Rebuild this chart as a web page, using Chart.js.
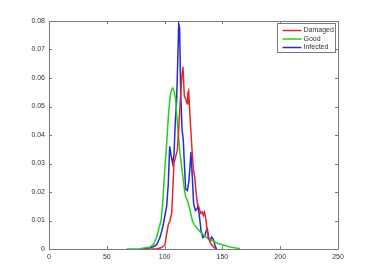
<!DOCTYPE html>
<html>
<head>
<meta charset="utf-8">
<script src="https://cdn.jsdelivr.net/npm/chart.js@4.4.0/dist/chart.umd.min.js"></script>
<style>
  html, body { margin: 0; padding: 0; background: #ffffff; }
  #wrap { width: 374px; height: 280px; }
</style>
</head>
<body>
<div id="wrap"><canvas id="hist" width="374" height="280"></canvas></div>
<script>
// intensity histograms
const seriesNames = ['Damaged', 'Good', 'Infected'];

const damagedX = [81.6, 93.1, 97.5, 100.3, 101.8, 103.2, 104.7, 106.1, 107, 108.1, 109.6, 111, 112.2, 113.3, 114.8, 115.9, 117.1, 118.2, 119.4, 120, 120.8, 121.4, 122.5, 123.7, 124.9, 126, 127.2, 128.3, 129.8, 131.2, 132.4, 133.5, 134.4, 135.5, 136.7, 137.8, 139.8, 142.2, 144.5];
const damagedY = [0, 0, 0.0005, 0.0015, 0.0054, 0.0085, 0.010, 0.0125, 0.020, 0.030, 0.0325, 0.0345, 0.042, 0.050, 0.060, 0.0639, 0.0535, 0.0528, 0.051, 0.0545, 0.0555, 0.051, 0.043, 0.035, 0.028, 0.0255, 0.020, 0.016, 0.0145, 0.0125, 0.013, 0.0118, 0.013, 0.011, 0.007, 0.004, 0.002, 0.0007, 0];

const goodX = [67.2, 78.7, 87.4, 90.8, 93.1, 95.4, 96.9, 98.1, 98.9, 100.3, 101.8, 103.2, 104.7, 105.8, 107, 108.4, 109.6, 110.4, 111.9, 113.3, 114.8, 116.8, 118.2, 119.7, 122, 124.3, 127.2, 132.1, 137.8, 146.5, 156.6, 165.2];
const goodY = [0, 0.0001, 0.0007, 0.0019, 0.0042, 0.0077, 0.010, 0.0147, 0.020, 0.0288, 0.0369, 0.0462, 0.0533, 0.0558, 0.0565, 0.0551, 0.0523, 0.0475, 0.0405, 0.0335, 0.0288, 0.0218, 0.0183, 0.0171, 0.0136, 0.0095, 0.0077, 0.0054, 0.0036, 0.0019, 0.0007, 0.0001];

const infectedX = [78.7, 84.5, 90.3, 93.1, 96, 98, 99.5, 101.8, 103.2, 104.4, 105.5, 107, 108.1, 109.3, 110.4, 111.3, 112.2, 113, 113.9, 115.1, 116.2, 117.1, 118.2, 119.7, 121.1, 122.8, 124, 125.1, 126.6, 128, 128.9, 130, 131.5, 133, 134.7, 136.1, 137, 138.1, 139.3, 140.7, 142.2, 143.6, 145];
const infectedY = [0, 0.0002, 0.0008, 0.0015, 0.004, 0.007, 0.010, 0.015, 0.023, 0.036, 0.033, 0.030, 0.033, 0.045, 0.052, 0.065, 0.079, 0.0775, 0.055, 0.042, 0.038, 0.030, 0.021, 0.0205, 0.024, 0.034, 0.025, 0.016, 0.0135, 0.014, 0.015, 0.012, 0.0065, 0.004, 0.0045, 0.0065, 0.007, 0.004, 0.003, 0.0042, 0.0033, 0.0012, 0];

const xTicks = [0, 50, 100, 150, 200, 250];
const yTicks = [0, 0.01, 0.02, 0.03, 0.04, 0.05, 0.06, 0.07, 0.08];

const lineColors = ['#e02828', '#22d022', '#2a2ad0'];
const axisColor = '#7a7a7a';
const textColor = '#333333';

function toPoints(xs, ys) {
    return xs.map((x, i) => ({ x: x, y: ys[i] }));
}

// matlab style box: border on all four sides, ticks pointing inward
const boxAxes = {
    id: 'boxAxes',
    afterDraw(chart) {
        const ctx = chart.ctx;
        const a = chart.chartArea;
        const xs = chart.scales.x;
        const ys = chart.scales.y;
        const len = 3;
        ctx.save();
        ctx.strokeStyle = axisColor;
        ctx.lineWidth = 1;
        ctx.beginPath();
        ctx.rect(a.left + 0.5, a.top + 0.5, a.right - a.left, a.bottom - a.top);
        xTicks.forEach(v => {
            const px = Math.round(xs.getPixelForValue(v)) + 0.5;
            ctx.moveTo(px, a.bottom);
            ctx.lineTo(px, a.bottom - len);
            ctx.moveTo(px, a.top);
            ctx.lineTo(px, a.top + len);
        });
        yTicks.forEach(v => {
            const py = Math.round(ys.getPixelForValue(v)) + 0.5;
            ctx.moveTo(a.left, py);
            ctx.lineTo(a.left + len, py);
            ctx.moveTo(a.right, py);
            ctx.lineTo(a.right - len, py);
        });
        ctx.stroke();
        ctx.restore();
    }
};

// legend box in the top right corner of the axes
const boxLegend = {
    id: 'boxLegend',
    afterDraw(chart) {
        const ctx = chart.ctx;
        const a = chart.chartArea;
        const w = 58, h = 29;
        const x0 = a.right - w - 2.5, y0 = a.top + 2.5;
        ctx.save();
        ctx.fillStyle = '#ffffff';
        ctx.fillRect(x0, y0, w, h);
        ctx.strokeStyle = axisColor;
        ctx.lineWidth = 1;
        ctx.strokeRect(x0, y0, w, h);
        ctx.font = '7px "Liberation Sans", Arial, sans-serif';
        ctx.textBaseline = 'middle';
        chart.data.datasets.forEach((ds, i) => {
            const yy = y0 + 7 + i * 8.5;
            ctx.strokeStyle = ds.borderColor;
            ctx.lineWidth = 1.5;
            ctx.beginPath();
            ctx.moveTo(x0 + 5, yy);
            ctx.lineTo(x0 + 24, yy);
            ctx.stroke();
            ctx.fillStyle = textColor;
            ctx.fillText(ds.label, x0 + 26, yy);
        });
        ctx.restore();
    }
};

const ctx = document.getElementById('hist').getContext('2d');
const histChart = new Chart(ctx, {
    type: 'line',
    data: {
        datasets: [
            { label: seriesNames[0], data: toPoints(damagedX, damagedY), borderColor: lineColors[0] },
            { label: seriesNames[1], data: toPoints(goodX, goodY), borderColor: lineColors[1] },
            { label: seriesNames[2], data: toPoints(infectedX, infectedY), borderColor: lineColors[2] }
        ].map(ds => Object.assign(ds, {
            borderWidth: 1.5,
            pointRadius: 0,
            tension: 0,
            fill: false
        }))
    },
    options: {
        responsive: false,
        animation: false,
        layout: { padding: { top: 21, right: 36, left: 0, bottom: 0 } },
        plugins: {
            legend: { display: false },
            tooltip: { enabled: false }
        },
        scales: {
            x: {
                type: 'linear',
                min: 0,
                max: 250,
                afterBuildTicks: s => { s.ticks = xTicks.map(v => ({ value: v })); },
                afterFit: s => { s.height = 31; },
                grid: { drawOnChartArea: false, drawTicks: false },
                border: { display: false },
                ticks: {
                    padding: 4,
                    color: textColor,
                    font: { family: '"Liberation Sans", Arial, sans-serif', size: 7 },
                    maxRotation: 0,
                    callback: v => String(v)
                }
            },
            y: {
                type: 'linear',
                min: 0,
                max: 0.08,
                afterBuildTicks: s => { s.ticks = yTicks.map(v => ({ value: v })); },
                afterFit: s => { s.width = 49; },
                grid: { drawOnChartArea: false, drawTicks: false },
                border: { display: false },
                ticks: {
                    padding: 4,
                    color: textColor,
                    font: { family: '"Liberation Sans", Arial, sans-serif', size: 7 },
                    callback: v => (v === 0 ? '0' : v.toFixed(2))
                }
            }
        }
    },
    plugins: [boxAxes, boxLegend]
});
</script>
</body>
</html>
